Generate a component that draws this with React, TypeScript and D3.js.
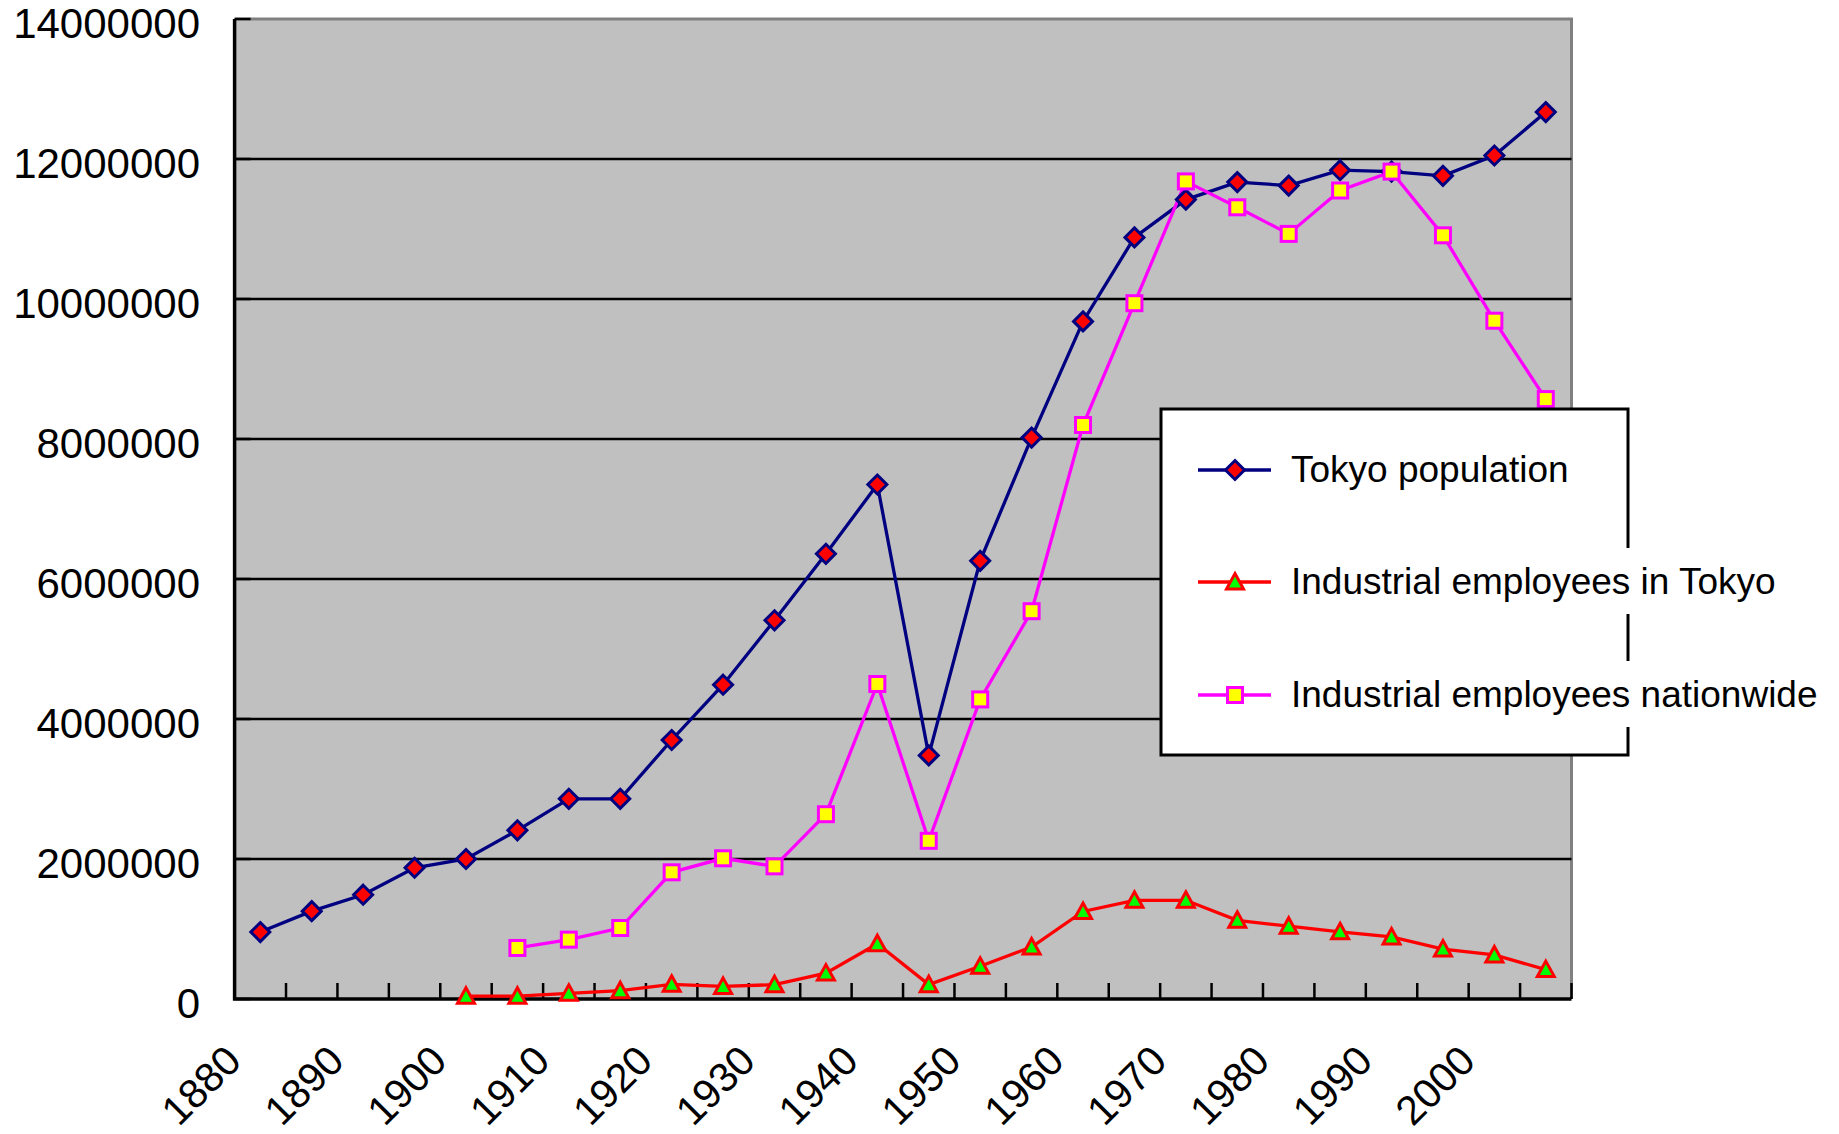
import React, { useEffect, useRef } from "react";
import * as d3 from "d3";

// categories (5 year steps) and the labels shown under the axis
const years = ["1880", "1885", "1890", "1895", "1900", "1905", "1910", "1915", "1920", "1925",
  "1930", "1935", "1940", "1945", "1950", "1955", "1960", "1965", "1970", "1975",
  "1980", "1985", "1990", "1995", "2000", "2005"];
const xLabels = ["1880", "1890", "1900", "1910", "1920", "1930", "1940", "1950", "1960", "1970", "1980", "1990", "2000"];
const yTicks = [0, 2000000, 4000000, 6000000, 8000000, 10000000, 12000000, 14000000];

const tokyoPopulation = [957000, 1255000, 1490000, 1875000, 2000000, 2410000, 2860000, 2860000, 3700000, 4490000,
  5410000, 6360000, 7350000, 3480000, 6260000, 8020000, 9680000, 10880000, 11420000, 11670000,
  11620000, 11840000, 11820000, 11760000, 12050000, 12670000];
const employeesTokyo = [null, null, null, null, 40000, 40000, 81000, 119000, 210000, 180000,
  205000, 370000, 790000, 205000, 467000, 743000, 1250000, 1410000, 1410000, 1124000,
  1040000, 960000, 886000, 714000, 629000, 420000];
const employeesNationwide = [null, null, null, null, null, 729000, 848000, 1014000, 1810000, 2010000,
  1895000, 2640000, 4500000, 2260000, 4280000, 5540000, 8200000, 9940000, 11680000, 11310000,
  10930000, 11550000, 11820000, 10910000, 9690000, 8570000];

const seriesNames = ["Tokyo population", "Industrial employees in Tokyo", "Industrial employees nationwide"];

const W = 1839, H = 1134;
const left = 234.6, right = 1571.5, top = 19, bottom = 999;

function drawMarker(g, kind, x, y) {
  if (kind === "diamond") {
    g.append("path")
      .attr("d", `M${x},${y - 9.5}L${x + 9.5},${y}L${x},${y + 9.5}L${x - 9.5},${y}Z`)
      .attr("fill", "#ff0000").attr("stroke", "#000080").attr("stroke-width", 3);
  } else if (kind === "triangle") {
    g.append("path")
      .attr("d", `M${x},${y - 8.5}L${x + 8.5},${y + 7}L${x - 8.5},${y + 7}Z`)
      .attr("fill", "#00ff00").attr("stroke", "#ff0000").attr("stroke-width", 3);
  } else {
    g.append("rect")
      .attr("x", x - 7.5).attr("y", y - 7.5).attr("width", 15).attr("height", 15)
      .attr("fill", "#ffff00").attr("stroke", "#ff00ff").attr("stroke-width", 3);
  }
}

export default function App() {
  const ref = useRef(null);

  useEffect(() => {
    const svg = d3.select(ref.current);
    svg.selectAll("*").remove();
    const font = "'Liberation Sans', Arial, sans-serif";

    const x = d3.scaleBand().domain(years).range([left, right]).padding(0);
    const bw = x.bandwidth();
    const cx = (yr) => x(yr) + bw / 2;
    const y = d3.scaleLinear().domain([0, 14000000]).range([bottom, top]);

    // plot area
    svg.append("rect")
      .attr("x", left).attr("y", top).attr("width", right - left).attr("height", bottom - top)
      .attr("fill", "#c0c0c0");
    svg.append("path")
      .attr("d", `M${left},${top}H${right}V${bottom}`)
      .attr("fill", "none").attr("stroke", "#808080").attr("stroke-width", 3);

    // gridlines
    svg.selectAll(".grid")
      .data(yTicks.filter(v => v > 0 && v < 14000000))
      .enter().append("line")
      .attr("x1", left).attr("x2", right)
      .attr("y1", d => y(d)).attr("y2", d => y(d))
      .attr("stroke", "#000").attr("stroke-width", 2.5);

    // y ticks + labels
    svg.selectAll(".ytick")
      .data(yTicks)
      .enter().append("line")
      .attr("x1", left).attr("x2", left + 16)
      .attr("y1", d => y(d)).attr("y2", d => y(d))
      .attr("stroke", "#000").attr("stroke-width", 2.5);
    svg.selectAll(".ylab")
      .data(yTicks)
      .enter().append("text")
      .attr("x", 200).attr("y", d => y(d) + 19)
      .attr("text-anchor", "end")
      .style("font-family", font).style("font-size", "42px")
      .text(d => String(d));

    // x ticks at category boundaries
    const bounds = years.map(yr => x(yr)).concat([right]);
    svg.selectAll(".xtick")
      .data(bounds)
      .enter().append("line")
      .attr("x1", d => d).attr("x2", d => d)
      .attr("y1", bottom).attr("y2", bottom - 16)
      .attr("stroke", "#000").attr("stroke-width", 2.5);

    // axes lines
    svg.append("path")
      .attr("d", `M${left},${top}V${bottom}H${right}`)
      .attr("fill", "none").attr("stroke", "#000").attr("stroke-width", 3.5);

    // x labels, rotated
    svg.selectAll(".xlab")
      .data(xLabels)
      .enter().append("text")
      .attr("transform", d => `translate(${cx(d) - 17},1063) rotate(-45)`)
      .attr("text-anchor", "end")
      .style("font-family", font).style("font-size", "41px")
      .text(d => d);

    // series
    const series = [
      { values: tokyoPopulation, color: "#000080", marker: "diamond" },
      { values: employeesTokyo, color: "#ff0000", marker: "triangle" },
      { values: employeesNationwide, color: "#ff00ff", marker: "square" },
    ];
    const line = d3.line()
      .defined(d => d[1] != null)
      .x(d => cx(d[0]))
      .y(d => y(d[1]));

    series.forEach(s => {
      const pts = years.map((yr, i) => [yr, s.values[i]]);
      svg.append("path")
        .attr("d", line(pts))
        .attr("fill", "none").attr("stroke", s.color).attr("stroke-width", 3.3);
    });
    series.forEach(s => {
      const g = svg.append("g");
      years.forEach((yr, i) => {
        if (s.values[i] == null) return;
        drawMarker(g, s.marker, cx(yr), y(s.values[i]));
      });
    });

    // legend
    const lg = svg.append("g");
    lg.append("rect")
      .attr("x", 1161).attr("y", 409).attr("width", 467).attr("height", 346)
      .attr("fill", "#fff").attr("stroke", "#000").attr("stroke-width", 3);
    const rowY = [470, 582, 695];
    series.forEach((s, i) => {
      const ry = rowY[i];
      const bg = lg.append("rect").attr("fill", "#fff");
      const t = lg.append("text")
        .attr("x", 1291).attr("y", ry + 12)
        .style("font-family", font).style("font-size", "37px")
        .text(seriesNames[i]);
      const len = t.node().getComputedTextLength();
      bg.attr("x", 1289).attr("y", ry - 34).attr("width", len + 6).attr("height", 66);
      lg.append("line")
        .attr("x1", 1198).attr("x2", 1271).attr("y1", ry).attr("y2", ry)
        .attr("stroke", s.color).attr("stroke-width", 3.3);
      drawMarker(lg, s.marker, 1235, ry);
    });
  }, []);

  return (
    <svg ref={ref} width={W} height={H}
      style={{ position: "absolute", left: 0, top: 0, display: "block", background: "#fff" }} />
  );
}
